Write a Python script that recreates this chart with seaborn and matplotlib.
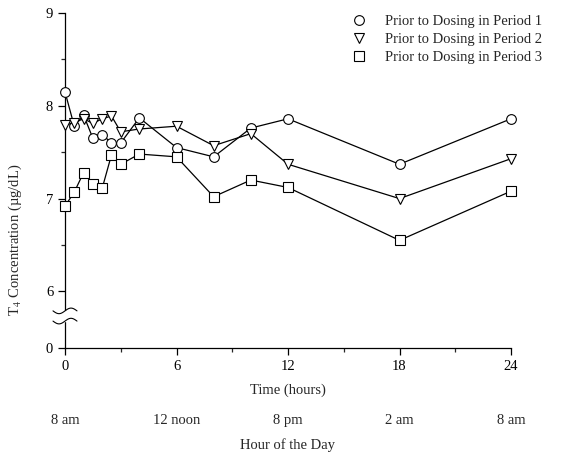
# T4 concentration over 24 hours, three dosing periods
import numpy as np
import pandas as pd
import matplotlib
matplotlib.use('Agg')
import matplotlib.pyplot as plt
import matplotlib.transforms as mtransforms
from matplotlib.lines import Line2D
import seaborn as sns

# Data
hours = [0, 0.5, 1, 1.5, 2, 2.5, 3, 4, 6, 8, 10, 12, 18, 24]
period1 = [8.15, 7.78, 7.90, 7.65, 7.69, 7.60, 7.60, 7.87, 7.55, 7.45, 7.76, 7.86, 7.37, 7.86]
period2 = [7.79, 7.82, 7.86, 7.81, 7.86, 7.89, 7.72, 7.75, 7.78, 7.57, 7.70, 7.37, 7.00, 7.43]
period3 = [6.92, 7.07, 7.28, 7.16, 7.11, 7.47, 7.37, 7.48, 7.45, 7.02, 7.20, 7.12, 6.55, 7.08]
series_names = ['Prior to Dosing in Period 1', 'Prior to Dosing in Period 2',
                'Prior to Dosing in Period 3']
x_ticks = [0, 6, 12, 18, 24]
clock_labels = ['8 am', '12 noon', '8 pm', '2 am', '8 am']

df = pd.DataFrame({'hours': hours * 3,
                   'conc': period1 + period2 + period3,
                   'period': np.repeat(series_names, len(hours))})

sns.set_style('ticks')
plt.rcParams['font.family'] = ['Liberation Serif', 'DejaVu Serif']
plt.rcParams['mathtext.fontset'] = 'stix'

fs = 10.5
fig = plt.figure(figsize=(5.61, 4.55), dpi=100)
ax = fig.add_axes([65 / 561, 1 - 348 / 455, 446 / 561, 335 / 455])

y_bottom = 5.39  # where the broken axis shows "0"
markers = ['o', 'v', 's']
for name, m in zip(series_names, markers):
    sns.lineplot(data=df[df['period'] == name], x='hours', y='conc', ax=ax,
                 color='black', linewidth=0.9, marker=m, markersize=7,
                 markerfacecolor='white', markeredgecolor='black',
                 markeredgewidth=0.8, clip_on=False, zorder=3)

ax.set_xlim(0, 24)
ax.set_ylim(y_bottom, 9)
ax.set_xticks(x_ticks)
ax.set_xticks([3, 9, 15, 21], minor=True)
ax.set_yticks([y_bottom, 6, 7, 8, 9])
ax.set_yticklabels(['0', '6', '7', '8', '9'])
ax.set_yticks([6.5, 7.5, 8.5], minor=True)
ax.tick_params(axis='both', which='major', length=5, width=0.9, labelsize=fs,
               color='black', labelcolor='black', direction='out')
ax.tick_params(axis='both', which='minor', length=3, width=0.9, direction='out')
for side in ['top', 'right']:
    ax.spines[side].set_visible(False)
for side in ['left', 'bottom']:
    ax.spines[side].set_linewidth(0.9)
    ax.spines[side].set_color('black')

ax.set_xlabel('Time (hours)', fontsize=fs)
ax.xaxis.set_label_coords(0.5, -(384 - 348) / 335)
ax.set_ylabel('T$_4$ Concentration (\u00b5g/dL)', fontsize=fs)
ax.yaxis.set_label_coords(-0.092, (348 - 240) / 335)

# axis break marks between 0 and 6
trans = mtransforms.blended_transform_factory(ax.transAxes, ax.transData)
u = np.linspace(-1, 1, 50)
dx = 12 / 446
amp = 0.03
y_hi, y_lo = 5.79, 5.68
ax.fill_between([-0.004, 0.004], [y_lo, y_lo], [y_hi, y_hi], color='white',
                transform=trans, clip_on=False, zorder=4)
for yc in (y_hi, y_lo):
    ax.plot(u * dx, yc + amp * np.sin(np.pi * u), color='black', lw=0.8,
            transform=trans, clip_on=False, zorder=5)

# clock time row under the time axis
trans_x = mtransforms.blended_transform_factory(ax.transData, ax.transAxes)
for xv, lab in zip(x_ticks, clock_labels):
    ax.text(xv, -(424 - 348) / 335, lab, transform=trans_x, ha='center',
            va='baseline', fontsize=fs)
ax.text(12, -(449 - 348) / 335, 'Hour of the Day', transform=trans_x,
        ha='center', va='baseline', fontsize=fs)

# legend with markers only
handles = [Line2D([], [], linestyle='none', marker=m, markersize=7,
                  markerfacecolor='white', markeredgecolor='black',
                  markeredgewidth=0.8) for m in markers]
ax.legend(handles, series_names, loc='upper right', frameon=False,
          fontsize=fs, handletextpad=0.8, labelspacing=0.35,
          bbox_to_anchor=(1.1, 1.035))

fig.savefig('out.png', dpi=100)
